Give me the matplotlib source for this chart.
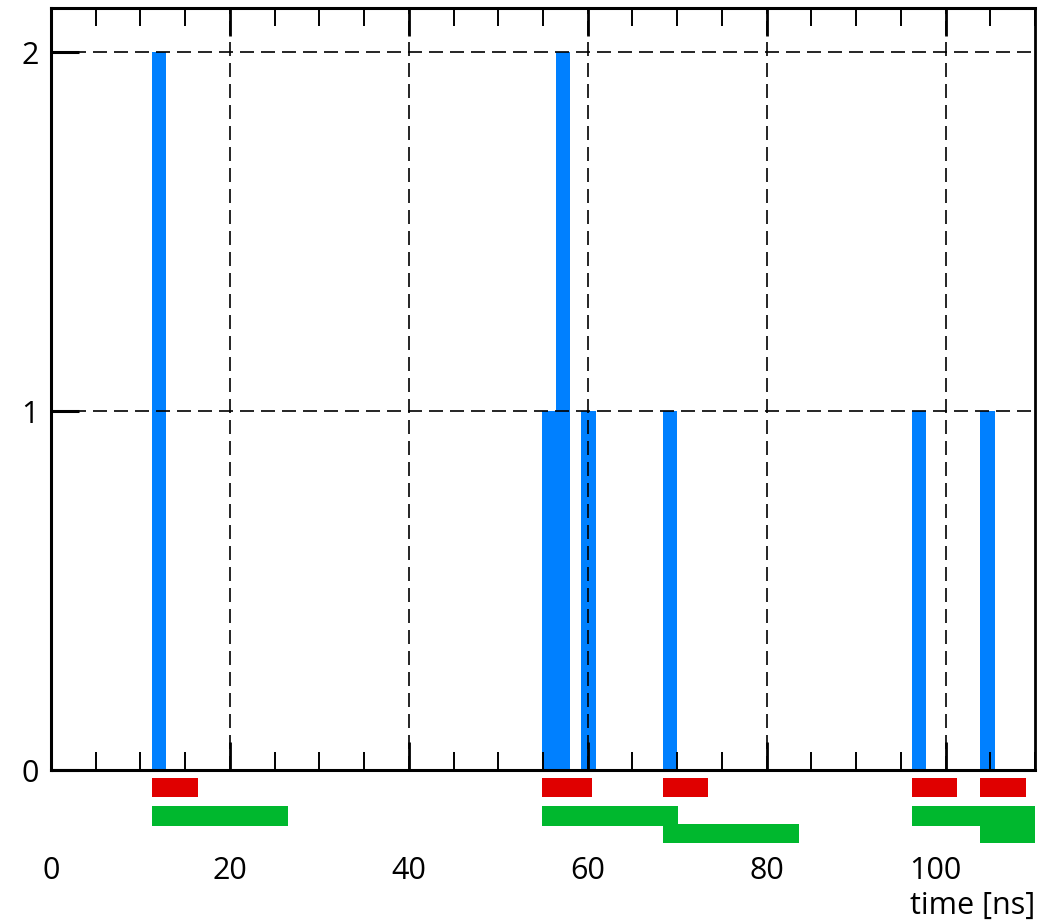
import matplotlib
matplotlib.use("Agg")
import matplotlib.pyplot as plt
from matplotlib.patches import Rectangle
from matplotlib.ticker import MultipleLocator
from matplotlib.transforms import ScaledTranslation

plt.rcParams['font.family'] = ['Open Sans', 'DejaVu Sans']

# Detected hits: left edge of each histogram bin [ns] and its count
hit_times = [11.3, 54.9, 56.4, 59.3, 68.4, 96.2, 103.9]
hit_counts = [2, 1, 2, 1, 1, 1, 1]

# Short (red) and long (green) gate windows [ns]
red_start = [11.3, 54.9, 68.4, 96.2, 103.9]
red_end = [16.4, 60.5, 73.5, 101.3, 109.0]
green_start = [11.3, 54.9, 68.4, 96.2, 103.9]
green_end = [26.5, 70.05, 83.6, 111.4, 119.1]
green_row = [0, 0, 1, 0, 1]

x_ticks = [0, 20, 40, 60, 80, 100]
y_ticks = [0, 1, 2]
x_label = "time [ns]"

BLUE = "#0080ff"
RED = "#e00000"
GREEN = "#00b82e"
FS = 22

W, H = 1051, 923
fig = plt.figure(figsize=(W / 100, H / 100), dpi=100)

def px_rect(x0, y0, x1, y1):
    return [x0 / W, 1 - y1 / H, (x1 - x0) / W, (y1 - y0) / H]

ax = fig.add_axes(px_rect(51, 8, 1035, 770))
ax.bar(hit_times, hit_counts, width=1.6, align='edge', color=BLUE,
       edgecolor='none', zorder=1)

ax.set_xlim(0, 110)
ax.set_ylim(0, 2.123)
ax.set_xticks(x_ticks)
ax.set_yticks(y_ticks)
ax.xaxis.set_minor_locator(MultipleLocator(5))
ax.grid(True, which='major', color='black', linestyle=(0, (8.4, 4.2)), linewidth=1.2)
ax.set_axisbelow(False)

for s in ax.spines.values():
    s.set_linewidth(2.2)
ax.spines['right'].set_linewidth(2.0)

ax.tick_params(axis='x', which='major', direction='in', length=20, width=2.0,
               top=True, bottom=True, labelsize=FS, pad=62)
ax.tick_params(axis='x', which='minor', direction='in', length=13, width=1.4,
               top=True, bottom=True)
ax.tick_params(axis='y', which='major', direction='in', length=20, width=2.2,
               left=True, right=False, labelsize=FS, pad=9)

# nudge the last time label left so it clears the right edge
last = ax.xaxis.get_major_ticks(len(x_ticks))[-1].label1
last.set_transform(last.get_transform() + ScaledTranslation(-0.10, 0, fig.dpi_scale_trans))

# Gate windows drawn in a strip just below the time axis
lane = fig.add_axes(px_rect(51, 770, 1035, 850), sharex=ax)
lane.set_ylim(80, 0)
lane.axis('off')
for s0, s1 in zip(red_start, red_end):
    lane.add_patch(Rectangle((s0, 8), s1 - s0, 19, color=RED, lw=0))
for s0, s1, r in zip(green_start, green_end, green_row):
    lane.add_patch(Rectangle((s0, 36 + 17.5 * r), s1 - s0, 19.5, color=GREEN, lw=0))

fig.text(1035 / W, 1 - 906 / H, x_label, ha='right', va='center', fontsize=FS)

fig.savefig("out.png", dpi=100)
